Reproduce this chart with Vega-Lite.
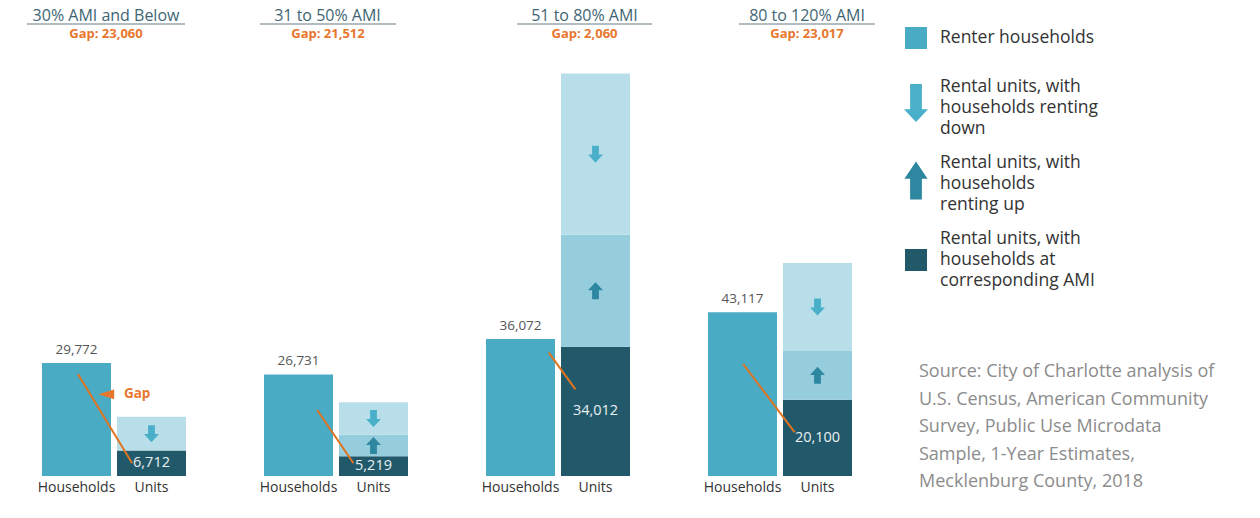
{
  "$schema": "https://vega.github.io/schema/vega-lite/v6.json",
  "padding": {"left": 26, "top": 8, "right": 5, "bottom": 5},
  "bounds": "flush",
  "spacing": 78,
  "datasets": {
    "bars": [
      {"g": "p1", "bar": "Households", "seg": "renter", "v": 29772, "o": 1},
      {"g": "p1", "bar": "Units", "seg": "corr", "v": 6712, "o": 1},
      {"g": "p1", "bar": "Units", "seg": "down", "v": 8880, "o": 3},
      {"g": "p2", "bar": "Households", "seg": "renter", "v": 26731, "o": 1},
      {"g": "p2", "bar": "Units", "seg": "corr", "v": 5219, "o": 1},
      {"g": "p2", "bar": "Units", "seg": "up", "v": 5610, "o": 2},
      {"g": "p2", "bar": "Units", "seg": "down", "v": 8620, "o": 3},
      {"g": "p3", "bar": "Households", "seg": "renter", "v": 36072, "o": 1},
      {"g": "p3", "bar": "Units", "seg": "corr", "v": 34012, "o": 1},
      {"g": "p3", "bar": "Units", "seg": "up", "v": 29510, "o": 2},
      {"g": "p3", "bar": "Units", "seg": "down", "v": 42420, "o": 3},
      {"g": "p4", "bar": "Households", "seg": "renter", "v": 43117, "o": 1},
      {"g": "p4", "bar": "Units", "seg": "corr", "v": 20100, "o": 1},
      {"g": "p4", "bar": "Units", "seg": "up", "v": 12800, "o": 2},
      {"g": "p4", "bar": "Units", "seg": "down", "v": 23190, "o": 3}
    ],
    "heads": [
      {"g": "p1", "gap": "Gap: 23,060"},
      {"g": "p2", "gap": "Gap:  21,512"},
      {"g": "p3", "gap": "Gap: 2,060"},
      {"g": "p4", "gap": "Gap: 23,017"}
    ],
    "gaplines": [
      {"g": "p1", "from": 26854, "to": 3344},
      {"g": "p2", "from": 17376, "to": 3344},
      {"g": "p3", "from": 32462, "to": 22826},
      {"g": "p4", "from": 29487, "to": 11505}
    ],
    "notes": [
      {"g": "p1", "label": "Gap", "y": 21500}
    ]
  },
  "title": {
    "text": ["Source: City of Charlotte analysis of", "U.S. Census, American Community", "Survey, Public Use Microdata", "Sample, 1-Year Estimates,", "Mecklenburg County, 2018"],
    "orient": "bottom",
    "anchor": "start",
    "frame": "group",
    "align": "left",
    "baseline": "top",
    "dx": 877,
    "dy": -130,
    "font": "Open Sans",
    "fontSize": 18,
    "fontWeight": "normal",
    "color": "#8c8c8c",
    "lineHeight": 27.6
  },
  "hconcat": [
    {
      "width": 144, "height": 452,
      "title": {"text": "30% AMI and Below", "dx": -8},
      "layer": [
        {
          "data": {"name": "bars"},
          "transform": [
            {"filter": "datum.g === 'p1'"},
            {"stack": "v", "groupby": ["bar"], "sort": [{"field": "o"}], "as": ["y0", "y1"]}
          ],
          "mark": {"type": "bar"},
          "encoding": {
            "x": {"field": "bar", "type": "nominal", "scale": {"domain": ["Households", "Units"], "paddingInner": 0.08, "paddingOuter": 0}, "axis": {"title": null, "labelAngle": 0, "domain": false, "ticks": false, "tickSize": 0, "labelPadding": 4, "labelFontSize": 14, "labelColor": "#333333", "labelFont": "Open Sans"}},
            "y": {"field": "y1", "type": "quantitative", "scale": {"domain": [0, 119000], "nice": false}, "axis": null},
            "y2": {"field": "y0"},
            "color": {"field": "seg", "type": "nominal",
              "condition": [{"test": "datum.seg === 'down'", "value": "#b8dee9"}, {"test": "datum.seg === 'up'", "value": "#96cddd"}],
              "scale": {"domain": ["renter", "down", "up", "corr"], "range": ["#4aabc5", "#4aafc9", "#2e87a0", "#22596a"]},
              "legend": {
                "title": null, "orient": "none", "legendX": 855, "legendY": -5,
                "symbolSize": 1444, "symbolOpacity": 1,
                "labelFont": "Open Sans", "labelFontSize": 17.5, "labelColor": "#333333", "labelOffset": 5, "labelLimit": 300,
                "rowPadding": 16,
                "labelExpr": "datum.value === 'renter' ? ['Renter households', ''] : datum.value === 'down' ? ['Rental units, with', 'households renting', 'down'] : datum.value === 'up' ? ['Rental units, with', 'households', 'renting up'] : ['Rental units, with', 'households at', 'corresponding AMI']",
                "encode": {
                  "symbols": {"update": {
                    "shape": {"signal": "datum.value === 'down' ? 'M-0.31,-1.26H0.31V0.07H0.63L0,0.74L-0.63,0.07H-0.31Z' : datum.value === 'up' ? 'M-0.31,0.82H0.31V-0.28H0.61L0,-1.18L-0.61,-0.28H-0.31Z' : 'M-0.58,-0.58H0.58V0.58H-0.58Z'"},
                    "strokeWidth": {"value": 0}
                  }},
                  "labels": {"update": {"lineHeight": {"signal": "datum.value === 'renter' ? 15 : 21"}, "dy": {"signal": "datum.value === 'renter' ? 0 : -21"}}}
                }
              }
            }
          }
        },
        {
          "data": {"name": "bars"},
          "transform": [
            {"filter": "datum.g === 'p1' && datum.bar === 'Units'"},
            {"stack": "v", "groupby": ["bar"], "sort": [{"field": "o"}], "as": ["y0", "y1"]},
            {"fold": ["y0", "y1"], "as": ["k", "yv"]},
            {"aggregate": [{"op": "mean", "field": "yv", "as": "ym"}], "groupby": ["g", "bar", "seg", "v"]}
          ],
          "encoding": {
            "x": {"field": "bar", "type": "nominal"},
            "y": {"field": "ym", "type": "quantitative"}
          },
          "layer": [
            {"transform": [{"filter": "datum.seg === 'down'"}], "mark": {"type": "point", "shape": "M-0.4,-1H0.4V0.05H0.88L0,1L-0.88,0.05H-0.4Z", "filled": true, "size": 289, "color": "#4aafc9", "opacity": 1, "strokeWidth": 0}},
            {"transform": [{"filter": "datum.seg === 'up'"}], "mark": {"type": "point", "shape": "M-0.4,1H0.4V-0.05H0.88L0,-1L-0.88,-0.05H-0.4Z", "filled": true, "size": 289, "color": "#2e87a0", "opacity": 1, "strokeWidth": 0}},
            {"transform": [{"filter": "datum.seg === 'corr'"}], "mark": {"type": "text", "color": "#e9f0f2", "fontSize": 14.5, "font": "Open Sans"}, "encoding": {"text": {"field": "v", "type": "quantitative", "format": ","}}}
          ]
        },
        {
          "data": {"name": "bars"},
          "transform": [{"filter": "datum.g === 'p1' && datum.seg === 'renter'"}],
          "mark": {"type": "text", "dy": -9, "baseline": "alphabetic", "fontSize": 13.5, "color": "#555555", "font": "Open Sans"},
          "encoding": {
            "x": {"field": "bar", "type": "nominal"},
            "y": {"field": "v", "type": "quantitative"},
            "text": {"field": "v", "type": "quantitative", "format": ","}
          }
        },
        {
          "data": {"name": "gaplines"},
          "transform": [{"filter": "datum.g === 'p1'"}],
          "mark": {"type": "rule", "color": "#e0731f", "strokeWidth": 2},
          "encoding": {
            "x": {"datum": "Households", "bandPosition": 0.52},
            "x2": {"datum": "Units", "bandPosition": 0.22},
            "y": {"field": "from", "type": "quantitative"},
            "y2": {"field": "to"}
          }
        },
        {
          "data": {"name": "notes"},
          "layer": [
            {"mark": {"type": "point", "shape": "M-1,0L1,-0.6L1,0.6Z", "filled": true, "size": 256, "color": "#e8762d", "opacity": 1, "strokeWidth": 0},
             "encoding": {"x": {"datum": "Households", "bandPosition": 0.93}, "y": {"field": "y", "type": "quantitative"}}},
            {"mark": {"type": "text", "align": "left", "fontWeight": "bold", "fontSize": 13.5, "color": "#e8762d", "font": "Open Sans"},
             "encoding": {"x": {"datum": "Units", "bandPosition": 0.1}, "y": {"field": "y", "type": "quantitative"}, "text": {"field": "label"}}}
          ]
        },
        {
          "data": {"name": "heads"},
          "transform": [{"filter": "datum.g === 'p1'"}],
          "layer": [
            {"mark": {"type": "rule", "color": "#9aa6ab", "strokeWidth": 1.5, "xOffset": -15, "x2Offset": -1},
             "encoding": {"x": {"datum": "Households", "bandPosition": 0}, "x2": {"datum": "Units", "bandPosition": 1}, "y": {"datum": 119000}}},
            {"mark": {"type": "text", "color": "#e8762d", "fontWeight": "bold", "fontSize": 13, "dy": 10, "dx": -11, "font": "Open Sans"},
             "encoding": {"x": {"datum": "Units", "bandPosition": 0}, "y": {"datum": 119000}, "text": {"field": "gap"}}}
          ]
        }
      ]
    },
    {
      "width": 144, "height": 452,
      "title": {"text": "31 to 50% AMI", "dx": -8.5},
      "layer": [
        {
          "data": {"name": "bars"},
          "transform": [
            {"filter": "datum.g === 'p2'"},
            {"stack": "v", "groupby": ["bar"], "sort": [{"field": "o"}], "as": ["y0", "y1"]}
          ],
          "mark": {"type": "bar"},
          "encoding": {
            "x": {"field": "bar", "type": "nominal", "scale": {"domain": ["Households", "Units"], "paddingInner": 0.08, "paddingOuter": 0}, "axis": {"title": null, "labelAngle": 0, "domain": false, "ticks": false, "tickSize": 0, "labelPadding": 4, "labelFontSize": 14, "labelColor": "#333333", "labelFont": "Open Sans"}},
            "y": {"field": "y1", "type": "quantitative", "scale": {"domain": [0, 119000], "nice": false}, "axis": null},
            "y2": {"field": "y0"},
            "color": {"field": "seg", "type": "nominal",
              "condition": [{"test": "datum.seg === 'down'", "value": "#b8dee9"}, {"test": "datum.seg === 'up'", "value": "#96cddd"}],
              "scale": {"domain": ["renter", "down", "up", "corr"], "range": ["#4aabc5", "#4aafc9", "#2e87a0", "#22596a"]},
              "legend": {
                "title": null, "orient": "none", "legendX": 855, "legendY": -5,
                "symbolSize": 1444, "symbolOpacity": 1,
                "labelFont": "Open Sans", "labelFontSize": 17.5, "labelColor": "#333333", "labelOffset": 5, "labelLimit": 300,
                "rowPadding": 16,
                "labelExpr": "datum.value === 'renter' ? ['Renter households', ''] : datum.value === 'down' ? ['Rental units, with', 'households renting', 'down'] : datum.value === 'up' ? ['Rental units, with', 'households', 'renting up'] : ['Rental units, with', 'households at', 'corresponding AMI']",
                "encode": {
                  "symbols": {"update": {
                    "shape": {"signal": "datum.value === 'down' ? 'M-0.31,-1.26H0.31V0.07H0.63L0,0.74L-0.63,0.07H-0.31Z' : datum.value === 'up' ? 'M-0.31,0.82H0.31V-0.28H0.61L0,-1.18L-0.61,-0.28H-0.31Z' : 'M-0.58,-0.58H0.58V0.58H-0.58Z'"},
                    "strokeWidth": {"value": 0}
                  }},
                  "labels": {"update": {"lineHeight": {"signal": "datum.value === 'renter' ? 15 : 21"}, "dy": {"signal": "datum.value === 'renter' ? 0 : -21"}}}
                }
              }
            }
          }
        },
        {
          "data": {"name": "bars"},
          "transform": [
            {"filter": "datum.g === 'p2' && datum.bar === 'Units'"},
            {"stack": "v", "groupby": ["bar"], "sort": [{"field": "o"}], "as": ["y0", "y1"]},
            {"fold": ["y0", "y1"], "as": ["k", "yv"]},
            {"aggregate": [{"op": "mean", "field": "yv", "as": "ym"}], "groupby": ["g", "bar", "seg", "v"]}
          ],
          "encoding": {
            "x": {"field": "bar", "type": "nominal"},
            "y": {"field": "ym", "type": "quantitative"}
          },
          "layer": [
            {"transform": [{"filter": "datum.seg === 'down'"}], "mark": {"type": "point", "shape": "M-0.4,-1H0.4V0.05H0.88L0,1L-0.88,0.05H-0.4Z", "filled": true, "size": 289, "color": "#4aafc9", "opacity": 1, "strokeWidth": 0}},
            {"transform": [{"filter": "datum.seg === 'up'"}], "mark": {"type": "point", "shape": "M-0.4,1H0.4V-0.05H0.88L0,-1L-0.88,-0.05H-0.4Z", "filled": true, "size": 289, "color": "#2e87a0", "opacity": 1, "strokeWidth": 0}},
            {"transform": [{"filter": "datum.seg === 'corr'"}], "mark": {"type": "text", "color": "#e9f0f2", "fontSize": 14.5, "font": "Open Sans"}, "encoding": {"text": {"field": "v", "type": "quantitative", "format": ","}}}
          ]
        },
        {
          "data": {"name": "bars"},
          "transform": [{"filter": "datum.g === 'p2' && datum.seg === 'renter'"}],
          "mark": {"type": "text", "dy": -9, "baseline": "alphabetic", "fontSize": 13.5, "color": "#555555", "font": "Open Sans"},
          "encoding": {
            "x": {"field": "bar", "type": "nominal"},
            "y": {"field": "v", "type": "quantitative"},
            "text": {"field": "v", "type": "quantitative", "format": ","}
          }
        },
        {
          "data": {"name": "gaplines"},
          "transform": [{"filter": "datum.g === 'p2'"}],
          "mark": {"type": "rule", "color": "#e0731f", "strokeWidth": 2},
          "encoding": {
            "x": {"datum": "Households", "bandPosition": 0.77},
            "x2": {"datum": "Units", "bandPosition": 0.21},
            "y": {"field": "from", "type": "quantitative"},
            "y2": {"field": "to"}
          }
        },
        {
          "data": {"name": "heads"},
          "transform": [{"filter": "datum.g === 'p2'"}],
          "layer": [
            {"mark": {"type": "rule", "color": "#9aa6ab", "strokeWidth": 1.5, "xOffset": -4, "x2Offset": -12},
             "encoding": {"x": {"datum": "Households", "bandPosition": 0}, "x2": {"datum": "Units", "bandPosition": 1}, "y": {"datum": 119000}}},
            {"mark": {"type": "text", "color": "#e8762d", "fontWeight": "bold", "fontSize": 13, "dy": 10, "dx": -11, "font": "Open Sans"},
             "encoding": {"x": {"datum": "Units", "bandPosition": 0}, "y": {"datum": 119000}, "text": {"field": "gap"}}}
          ]
        }
      ]
    },
    {
      "width": 144, "height": 452,
      "title": {"text": "51 to 80% AMI", "dx": 26.5},
      "layer": [
        {
          "data": {"name": "bars"},
          "transform": [
            {"filter": "datum.g === 'p3'"},
            {"stack": "v", "groupby": ["bar"], "sort": [{"field": "o"}], "as": ["y0", "y1"]}
          ],
          "mark": {"type": "bar"},
          "encoding": {
            "x": {"field": "bar", "type": "nominal", "scale": {"domain": ["Households", "Units"], "paddingInner": 0.08, "paddingOuter": 0}, "axis": {"title": null, "labelAngle": 0, "domain": false, "ticks": false, "tickSize": 0, "labelPadding": 4, "labelFontSize": 14, "labelColor": "#333333", "labelFont": "Open Sans"}},
            "y": {"field": "y1", "type": "quantitative", "scale": {"domain": [0, 119000], "nice": false}, "axis": null},
            "y2": {"field": "y0"},
            "color": {"field": "seg", "type": "nominal",
              "condition": [{"test": "datum.seg === 'down'", "value": "#b8dee9"}, {"test": "datum.seg === 'up'", "value": "#96cddd"}],
              "scale": {"domain": ["renter", "down", "up", "corr"], "range": ["#4aabc5", "#4aafc9", "#2e87a0", "#22596a"]},
              "legend": {
                "title": null, "orient": "none", "legendX": 855, "legendY": -5,
                "symbolSize": 1444, "symbolOpacity": 1,
                "labelFont": "Open Sans", "labelFontSize": 17.5, "labelColor": "#333333", "labelOffset": 5, "labelLimit": 300,
                "rowPadding": 16,
                "labelExpr": "datum.value === 'renter' ? ['Renter households', ''] : datum.value === 'down' ? ['Rental units, with', 'households renting', 'down'] : datum.value === 'up' ? ['Rental units, with', 'households', 'renting up'] : ['Rental units, with', 'households at', 'corresponding AMI']",
                "encode": {
                  "symbols": {"update": {
                    "shape": {"signal": "datum.value === 'down' ? 'M-0.31,-1.26H0.31V0.07H0.63L0,0.74L-0.63,0.07H-0.31Z' : datum.value === 'up' ? 'M-0.31,0.82H0.31V-0.28H0.61L0,-1.18L-0.61,-0.28H-0.31Z' : 'M-0.58,-0.58H0.58V0.58H-0.58Z'"},
                    "strokeWidth": {"value": 0}
                  }},
                  "labels": {"update": {"lineHeight": {"signal": "datum.value === 'renter' ? 15 : 21"}, "dy": {"signal": "datum.value === 'renter' ? 0 : -21"}}}
                }
              }
            }
          }
        },
        {
          "data": {"name": "bars"},
          "transform": [
            {"filter": "datum.g === 'p3' && datum.bar === 'Units'"},
            {"stack": "v", "groupby": ["bar"], "sort": [{"field": "o"}], "as": ["y0", "y1"]},
            {"fold": ["y0", "y1"], "as": ["k", "yv"]},
            {"aggregate": [{"op": "mean", "field": "yv", "as": "ym"}], "groupby": ["g", "bar", "seg", "v"]}
          ],
          "encoding": {
            "x": {"field": "bar", "type": "nominal"},
            "y": {"field": "ym", "type": "quantitative"}
          },
          "layer": [
            {"transform": [{"filter": "datum.seg === 'down'"}], "mark": {"type": "point", "shape": "M-0.4,-1H0.4V0.05H0.88L0,1L-0.88,0.05H-0.4Z", "filled": true, "size": 289, "color": "#4aafc9", "opacity": 1, "strokeWidth": 0}},
            {"transform": [{"filter": "datum.seg === 'up'"}], "mark": {"type": "point", "shape": "M-0.4,1H0.4V-0.05H0.88L0,-1L-0.88,-0.05H-0.4Z", "filled": true, "size": 289, "color": "#2e87a0", "opacity": 1, "strokeWidth": 0}},
            {"transform": [{"filter": "datum.seg === 'corr'"}], "mark": {"type": "text", "color": "#e9f0f2", "fontSize": 14.5, "font": "Open Sans"}, "encoding": {"text": {"field": "v", "type": "quantitative", "format": ","}}}
          ]
        },
        {
          "data": {"name": "bars"},
          "transform": [{"filter": "datum.g === 'p3' && datum.seg === 'renter'"}],
          "mark": {"type": "text", "dy": -9, "baseline": "alphabetic", "fontSize": 13.5, "color": "#555555", "font": "Open Sans"},
          "encoding": {
            "x": {"field": "bar", "type": "nominal"},
            "y": {"field": "v", "type": "quantitative"},
            "text": {"field": "v", "type": "quantitative", "format": ","}
          }
        },
        {
          "data": {"name": "gaplines"},
          "transform": [{"filter": "datum.g === 'p3'"}],
          "mark": {"type": "rule", "color": "#e0731f", "strokeWidth": 2},
          "encoding": {
            "x": {"datum": "Households", "bandPosition": 0.91},
            "x2": {"datum": "Units", "bandPosition": 0.21},
            "y": {"field": "from", "type": "quantitative"},
            "y2": {"field": "to"}
          }
        },
        {
          "data": {"name": "heads"},
          "transform": [{"filter": "datum.g === 'p3'"}],
          "layer": [
            {"mark": {"type": "rule", "color": "#9aa6ab", "strokeWidth": 1.5, "xOffset": 31, "x2Offset": 22},
             "encoding": {"x": {"datum": "Households", "bandPosition": 0}, "x2": {"datum": "Units", "bandPosition": 1}, "y": {"datum": 119000}}},
            {"mark": {"type": "text", "color": "#e8762d", "fontWeight": "bold", "fontSize": 13, "dy": 10, "dx": 23.5, "font": "Open Sans"},
             "encoding": {"x": {"datum": "Units", "bandPosition": 0}, "y": {"datum": 119000}, "text": {"field": "gap"}}}
          ]
        }
      ]
    },
    {
      "width": 144, "height": 452,
      "title": {"text": "80 to 120% AMI", "dx": 27},
      "layer": [
        {
          "data": {"name": "bars"},
          "transform": [
            {"filter": "datum.g === 'p4'"},
            {"stack": "v", "groupby": ["bar"], "sort": [{"field": "o"}], "as": ["y0", "y1"]}
          ],
          "mark": {"type": "bar"},
          "encoding": {
            "x": {"field": "bar", "type": "nominal", "scale": {"domain": ["Households", "Units"], "paddingInner": 0.08, "paddingOuter": 0}, "axis": {"title": null, "labelAngle": 0, "domain": false, "ticks": false, "tickSize": 0, "labelPadding": 4, "labelFontSize": 14, "labelColor": "#333333", "labelFont": "Open Sans"}},
            "y": {"field": "y1", "type": "quantitative", "scale": {"domain": [0, 119000], "nice": false}, "axis": null},
            "y2": {"field": "y0"},
            "color": {"field": "seg", "type": "nominal",
              "condition": [{"test": "datum.seg === 'down'", "value": "#b8dee9"}, {"test": "datum.seg === 'up'", "value": "#96cddd"}],
              "scale": {"domain": ["renter", "down", "up", "corr"], "range": ["#4aabc5", "#4aafc9", "#2e87a0", "#22596a"]},
              "legend": {
                "title": null, "orient": "none", "legendX": 855, "legendY": -5,
                "symbolSize": 1444, "symbolOpacity": 1,
                "labelFont": "Open Sans", "labelFontSize": 17.5, "labelColor": "#333333", "labelOffset": 5, "labelLimit": 300,
                "rowPadding": 16,
                "labelExpr": "datum.value === 'renter' ? ['Renter households', ''] : datum.value === 'down' ? ['Rental units, with', 'households renting', 'down'] : datum.value === 'up' ? ['Rental units, with', 'households', 'renting up'] : ['Rental units, with', 'households at', 'corresponding AMI']",
                "encode": {
                  "symbols": {"update": {
                    "shape": {"signal": "datum.value === 'down' ? 'M-0.31,-1.26H0.31V0.07H0.63L0,0.74L-0.63,0.07H-0.31Z' : datum.value === 'up' ? 'M-0.31,0.82H0.31V-0.28H0.61L0,-1.18L-0.61,-0.28H-0.31Z' : 'M-0.58,-0.58H0.58V0.58H-0.58Z'"},
                    "strokeWidth": {"value": 0}
                  }},
                  "labels": {"update": {"lineHeight": {"signal": "datum.value === 'renter' ? 15 : 21"}, "dy": {"signal": "datum.value === 'renter' ? 0 : -21"}}}
                }
              }
            }
          }
        },
        {
          "data": {"name": "bars"},
          "transform": [
            {"filter": "datum.g === 'p4' && datum.bar === 'Units'"},
            {"stack": "v", "groupby": ["bar"], "sort": [{"field": "o"}], "as": ["y0", "y1"]},
            {"fold": ["y0", "y1"], "as": ["k", "yv"]},
            {"aggregate": [{"op": "mean", "field": "yv", "as": "ym"}], "groupby": ["g", "bar", "seg", "v"]}
          ],
          "encoding": {
            "x": {"field": "bar", "type": "nominal"},
            "y": {"field": "ym", "type": "quantitative"}
          },
          "layer": [
            {"transform": [{"filter": "datum.seg === 'down'"}], "mark": {"type": "point", "shape": "M-0.4,-1H0.4V0.05H0.88L0,1L-0.88,0.05H-0.4Z", "filled": true, "size": 289, "color": "#4aafc9", "opacity": 1, "strokeWidth": 0}},
            {"transform": [{"filter": "datum.seg === 'up'"}], "mark": {"type": "point", "shape": "M-0.4,1H0.4V-0.05H0.88L0,-1L-0.88,-0.05H-0.4Z", "filled": true, "size": 289, "color": "#2e87a0", "opacity": 1, "strokeWidth": 0}},
            {"transform": [{"filter": "datum.seg === 'corr'"}], "mark": {"type": "text", "color": "#e9f0f2", "fontSize": 14.5, "font": "Open Sans"}, "encoding": {"text": {"field": "v", "type": "quantitative", "format": ","}}}
          ]
        },
        {
          "data": {"name": "bars"},
          "transform": [{"filter": "datum.g === 'p4' && datum.seg === 'renter'"}],
          "mark": {"type": "text", "dy": -9, "baseline": "alphabetic", "fontSize": 13.5, "color": "#555555", "font": "Open Sans"},
          "encoding": {
            "x": {"field": "bar", "type": "nominal"},
            "y": {"field": "v", "type": "quantitative"},
            "text": {"field": "v", "type": "quantitative", "format": ","}
          }
        },
        {
          "data": {"name": "gaplines"},
          "transform": [{"filter": "datum.g === 'p4'"}],
          "mark": {"type": "rule", "color": "#e0731f", "strokeWidth": 2},
          "encoding": {
            "x": {"datum": "Households", "bandPosition": 0.51},
            "x2": {"datum": "Units", "bandPosition": 0.17},
            "y": {"field": "from", "type": "quantitative"},
            "y2": {"field": "to"}
          }
        },
        {
          "data": {"name": "heads"},
          "transform": [{"filter": "datum.g === 'p4'"}],
          "layer": [
            {"mark": {"type": "rule", "color": "#9aa6ab", "strokeWidth": 1.5, "xOffset": 31, "x2Offset": 23},
             "encoding": {"x": {"datum": "Households", "bandPosition": 0}, "x2": {"datum": "Units", "bandPosition": 1}, "y": {"datum": 119000}}},
            {"mark": {"type": "text", "color": "#e8762d", "fontWeight": "bold", "fontSize": 13, "dy": 10, "dx": 24, "font": "Open Sans"},
             "encoding": {"x": {"datum": "Units", "bandPosition": 0}, "y": {"datum": 119000}, "text": {"field": "gap"}}}
          ]
        }
      ]
    }
  ],
  "config": {
    "view": {"stroke": null},
    "font": "Open Sans",
    "title": {"font": "Open Sans", "fontSize": 16, "fontWeight": "normal", "color": "#3e6573", "anchor": "middle", "offset": -1}
  }
}
